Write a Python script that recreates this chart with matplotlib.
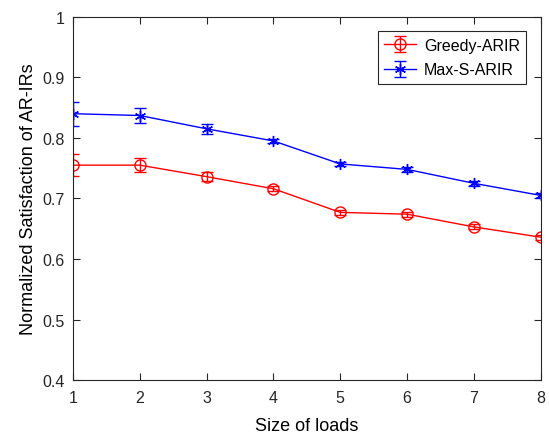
import matplotlib
matplotlib.use("Agg")
import matplotlib.pyplot as plt

x = [1, 2, 3, 4, 5, 6, 7, 8]
greedy = [0.755, 0.755, 0.736, 0.716, 0.677, 0.674, 0.653, 0.636]
greedy_err = [0.018, 0.012, 0.008, 0.004, 0.004, 0.004, 0.004, 0.004]
maxs = [0.840, 0.837, 0.815, 0.795, 0.757, 0.748, 0.725, 0.705]
maxs_err = [0.020, 0.012, 0.008, 0.004, 0.004, 0.004, 0.004, 0.004]

plt.rcParams['font.family'] = ['Liberation Sans', 'DejaVu Sans']
fig = plt.figure(figsize=(5.49, 4.35), dpi=100)
ax = fig.add_axes([0.133, 0.124, 0.852, 0.835])

ax.errorbar(x, greedy, yerr=greedy_err, color='#ff0000', marker='o', markersize=8,
            markerfacecolor='none', linewidth=1, capsize=4, elinewidth=1, label='Greedy-ARIR')
ax.errorbar(x, maxs, yerr=maxs_err, color='#0000ff', marker=(6, 2, 0), markersize=8,
            linewidth=1, capsize=4, elinewidth=1, label='Max-S-ARIR')

ax.set_xlim(1, 8)
ax.set_ylim(0.4, 1.0)
ax.set_xticks(x)
ax.set_yticks([0.4, 0.5, 0.6, 0.7, 0.8, 0.9, 1.0])
ax.set_yticklabels(['0.4', '0.5', '0.6', '0.7', '0.8', '0.9', '1'])
ax.tick_params(direction='in', top=True, right=True, labelsize=11.5, colors='#262626', length=5)
ax.tick_params(axis='x', pad=7)
ax.tick_params(axis='y', pad=6)
for s in ax.spines.values():
    s.set_color('#262626')
    s.set_linewidth(0.8)
ax.set_xlabel('Size of loads', fontsize=13, labelpad=9)
ax.set_ylabel('Normalized Satisfaction of AR-IRs', fontsize=13, labelpad=4)

leg = ax.legend(loc='upper right', fontsize=11.5, fancybox=False, edgecolor='#262626',
                framealpha=1, borderaxespad=0.9, handlelength=2.0, labelspacing=0.6,
                handletextpad=0.5)
leg.get_frame().set_linewidth(0.8)

fig.savefig('out.png', dpi=100)
